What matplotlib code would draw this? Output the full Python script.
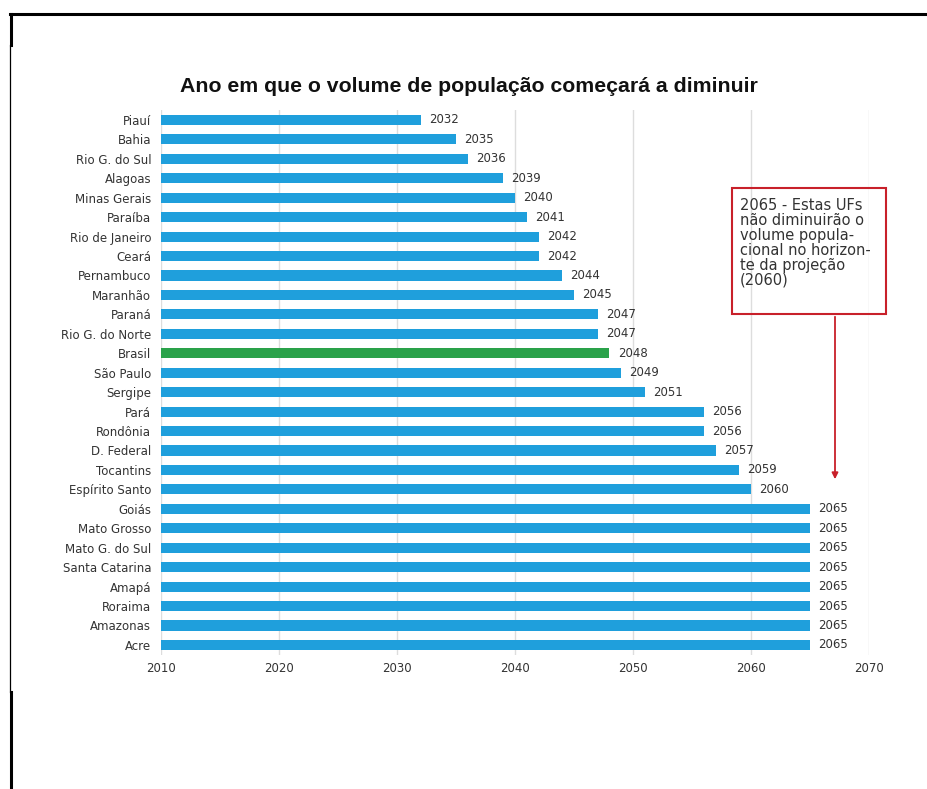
import matplotlib.pyplot as plt
from matplotlib.lines import Line2D
from matplotlib.patches import Rectangle

# data
states = ['Piauí', 'Bahia', 'Rio G. do Sul', 'Alagoas', 'Minas Gerais', 'Paraíba',
          'Rio de Janeiro', 'Ceará', 'Pernambuco', 'Maranhão', 'Paraná',
          'Rio G. do Norte', 'Brasil', 'São Paulo', 'Sergipe', 'Pará', 'Rondônia',
          'D. Federal', 'Tocantins', 'Espírito Santo', 'Goiás', 'Mato Grosso',
          'Mato G. do Sul', 'Santa Catarina', 'Amapá', 'Roraima', 'Amazonas', 'Acre']
years = [2032, 2035, 2036, 2039, 2040, 2041, 2042, 2042, 2044, 2045, 2047,
         2047, 2048, 2049, 2051, 2056, 2056, 2057, 2059, 2060, 2065, 2065,
         2065, 2065, 2065, 2065, 2065, 2065]
start_year = 2010
xticks = [2010, 2020, 2030, 2040, 2050, 2060, 2070]

blue = '#1f9fdc'
green = '#2aa24a'
red = '#c8202a'
txt = '#333333'

plt.rcParams['font.family'] = ['DejaVu Sans']

fig = plt.figure(figsize=(9.28, 7.89), dpi=100)
ax = fig.add_axes([161/928, 1 - 655/789, 708/928, 545/789])

ypos = list(range(len(states)))
colors = [green if s == 'Brasil' else blue for s in states]
ax.barh(ypos, [y - start_year for y in years], left=start_year, height=0.52,
        color=colors, zorder=2)

for yp, v in zip(ypos, years):
    ax.annotate(str(v), (v, yp), xytext=(6, 0), textcoords='offset points',
                va='center', ha='left', fontsize=8.5, color=txt)

ax.set_xlim(2010, 2070)
ax.set_ylim(27.52, -0.51)
ax.set_xticks(xticks)
ax.set_yticks(ypos)
ax.set_yticklabels(states)
ax.tick_params(length=0, labelsize=8.5, colors=txt)
ax.tick_params(axis='y', pad=7)
ax.tick_params(axis='x', pad=5)
ax.grid(axis='x', color='#dddddd', linewidth=1, zorder=0)
for sp in ax.spines.values():
    sp.set_visible(False)

# title
fig.text(469/928, 1 - 86/789, 'Ano em que o volume de população começará a diminuir',
         ha='center', va='center', fontsize=15.3, fontweight='bold', color='#111111',
         family='Liberation Sans')

# annotation box and arrow
box = Rectangle((732/928, 1 - 314/789), (886 - 732)/928, (314 - 188)/789,
                transform=fig.transFigure, fill=False, edgecolor=red, linewidth=1.5)
fig.add_artist(box)
fig.text(740/928, 1 - 198/789,
         '2065 - Estas UFs\nnão diminuirão o\nvolume popula-\ncional no horizon-\nte da projeção\n(2060)',
         ha='left', va='top', fontsize=10.5, linespacing=1.0, color=txt)
ax.annotate('', xy=(835/928, 1 - 482/789), xytext=(835/928, 1 - 314/789),
            xycoords='figure fraction', textcoords='figure fraction',
            arrowprops=dict(arrowstyle='-|>', color=red, lw=1.3, mutation_scale=9))

# page frame
fig.add_artist(Line2D([10/928, 1], [1 - 14/789, 1 - 14/789], color='black', lw=2.2,
                      transform=fig.transFigure))
fig.add_artist(Line2D([11/928, 11/928], [1 - 14/789, 1 - 45/789], color='black', lw=2.2,
                      transform=fig.transFigure))
fig.add_artist(Line2D([10/928, 10/928], [1 - 45/789, 1 - 692/789], color='black', lw=0.9,
                      transform=fig.transFigure))
fig.add_artist(Line2D([11/928, 11/928], [1 - 692/789, 0], color='black', lw=2.2,
                      transform=fig.transFigure))

fig.savefig('out.png', dpi=100, facecolor='white')
